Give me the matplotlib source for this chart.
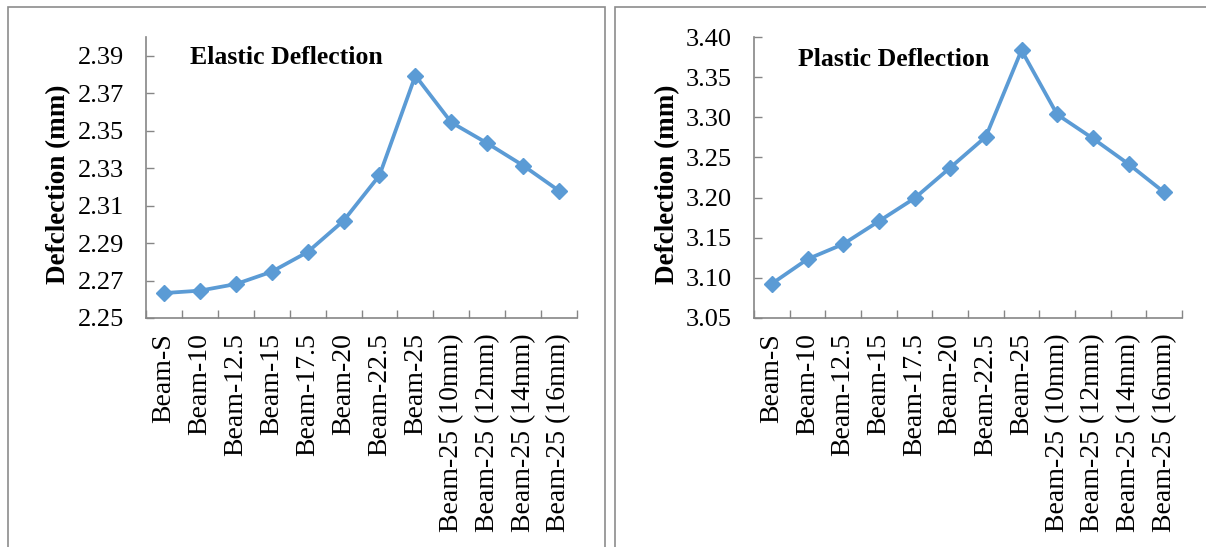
import matplotlib
matplotlib.use("Agg")
import matplotlib.pyplot as plt
from matplotlib.patches import Rectangle
import numpy as np

categories = ["Beam-S", "Beam-10", "Beam-12.5", "Beam-15", "Beam-17.5", "Beam-20",
              "Beam-22.5", "Beam-25", "Beam-25 (10mm)", "Beam-25 (12mm)",
              "Beam-25 (14mm)", "Beam-25 (16mm)"]
elastic = [2.2633, 2.2646, 2.2681, 2.2747, 2.2852, 2.3019, 2.3261, 2.3794,
           2.3544, 2.3433, 2.3314, 2.3179]
plastic = [3.0927, 3.1233, 3.1420, 3.1705, 3.1991, 3.2372, 3.2758, 3.3835,
           3.3035, 3.2737, 3.2418, 3.2066]
elastic_ticks = [2.25, 2.27, 2.29, 2.31, 2.33, 2.35, 2.37, 2.39]
plastic_ticks = [3.05, 3.10, 3.15, 3.20, 3.25, 3.30, 3.35, 3.40]

plt.rcParams['font.family'] = ['Liberation Serif', 'DejaVu Serif']

W, H = 1206, 547
fig = plt.figure(figsize=(W / 100, H / 100), dpi=100)

# panel frames
fig.patches.append(Rectangle((8 / W, -0.1), (605 - 8) / W, 1.1 - 7 / H,
                             transform=fig.transFigure, fill=False,
                             edgecolor='#8c8c8c', linewidth=1.2))
fig.patches.append(Rectangle((615 / W, -0.1), 0.6, 1.1 - 7 / H,
                             transform=fig.transFigure, fill=False,
                             edgecolor='#8c8c8c', linewidth=1.2))

def make_ax(x0, x1, data, ticks, ylim, title, tx, ty, lx, fmt):
    ax = fig.add_axes([x0 / W, 1 - 318 / H, (x1 - x0) / W, (318 - 37) / H])
    x = np.arange(len(categories))
    ax.plot(x, data, color='#5b9bd5', linewidth=2.7, marker='D',
            markersize=8.5, markeredgecolor='#5b9bd5', zorder=3)
    ax.set_xlim(-0.5, len(categories) - 0.5)
    ax.set_ylim(*ylim)
    ax.set_yticks(ticks)
    ax.set_yticklabels([fmt.format(t) for t in ticks], fontsize=19)
    ax.set_xticks(x)
    ax.set_xticklabels(categories, rotation=90, fontsize=20)
    ax.set_xticks(np.arange(-0.5, len(categories)), minor=True)
    ax.tick_params(axis='x', which='major', length=0, pad=11)
    ax.tick_params(axis='x', which='minor', direction='in', length=6,
                   color='#868686', width=1)
    ax.tick_params(axis='y', direction='in', length=6, color='#868686',
                   width=1, pad=16)
    for s in ['top', 'right']:
        ax.spines[s].set_visible(False)
    for s in ['left', 'bottom']:
        ax.spines[s].set_color('#868686')
        ax.spines[s].set_linewidth(1.2)
    ax.set_ylabel("Defclection (mm)", fontsize=19.5, fontweight='bold')
    ax.yaxis.set_label_coords((lx - x0) / (x1 - x0), (318 - 184) / (318 - 37))
    fig.text(tx / W, 1 - ty / H, title, fontsize=18.5, fontweight='bold',
             ha='left', va='center')
    return ax

make_ax(146, 577, elastic, elastic_ticks, (2.25, 2.40), "Elastic Deflection",
        190, 57, 71, "{:.2f}")
make_ax(754, 1182, plastic, plastic_ticks, (3.05, 3.40), "Plastic Deflection",
        798, 60, 680, "{:.2f}")

fig.savefig("out.png", dpi=100)
